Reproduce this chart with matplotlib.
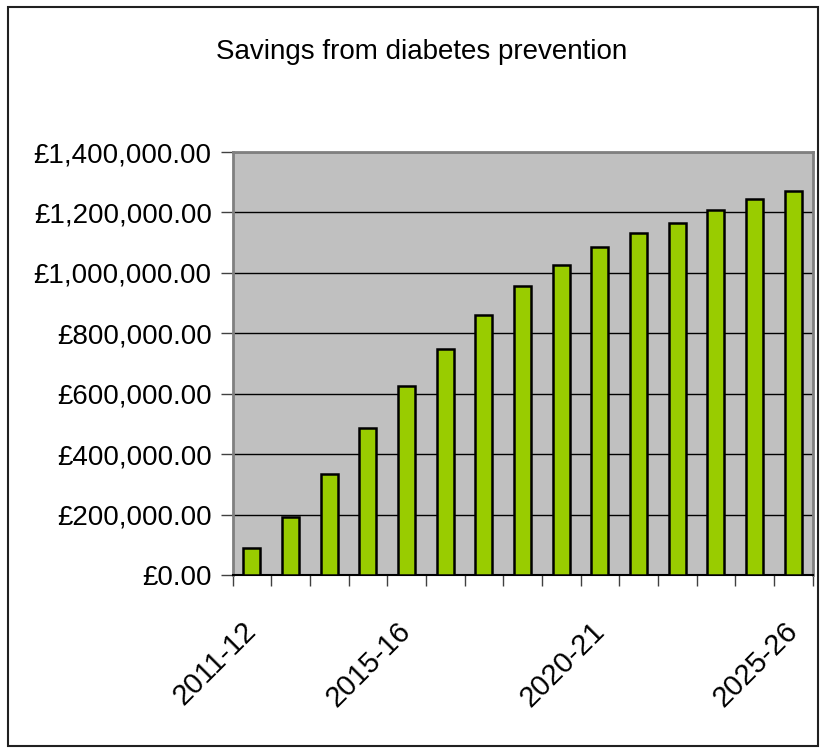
"""
Bar chart of projected savings from diabetes prevention
"""

import matplotlib
matplotlib.use("Agg")
import matplotlib.pyplot as plt
from matplotlib.patches import Rectangle
from matplotlib.ticker import FuncFormatter, FixedLocator

years = ["2011-12", "2012-13", "2013-14", "2014-15", "2015-16", "2016-17", "2017-18",
         "2018-19", "2019-20", "2020-21", "2021-22", "2022-23", "2023-24", "2024-25", "2025-26"]
savings = [88000, 191000, 333000, 487000, 625000, 749000, 861000,
           957000, 1026000, 1087000, 1131000, 1166000, 1208000, 1243000, 1270000]
shown_labels = ["2011-12", "2015-16", "2020-21", "2025-26"]

plt.rcParams["font.family"] = ["Liberation Sans", "DejaVu Sans"]

fig = plt.figure(figsize=(8.22, 7.5), dpi=100)

# outer chart border
fig.patches.append(Rectangle((8 / 822, 4 / 750), 810 / 822, 739 / 750, transform=fig.transFigure,
                             fill=False, edgecolor="#202020", linewidth=1.5))

ax = fig.add_axes([232.5 / 822, 175 / 750, 580 / 822, 423 / 750])
ax.set_facecolor("#c0c0c0")

x = list(range(len(years)))
ax.bar(x, savings, width=0.44, color="#99cc00", edgecolor="black", linewidth=1.8, zorder=3)

ax.set_xlim(-0.5, len(years) - 0.5)
ax.set_ylim(0, 1400000)
ax.set_yticks(range(0, 1400001, 200000))
ax.yaxis.set_major_formatter(FuncFormatter(lambda v, pos: "£{:,.2f}".format(v)))
ax.grid(axis="y", color="black", linewidth=1, zorder=1)

# category labels sit under their bars, tick marks sit between the bars
label_pos = [years.index(y) for y in shown_labels]
ax.set_xticks(label_pos)
ax.set_xticklabels(shown_labels, rotation=45, ha="right", va="center",
                   rotation_mode="anchor", fontsize=21)
ax.tick_params(axis="x", which="major", length=0, pad=37)
ax.xaxis.set_minor_locator(FixedLocator([i - 0.5 for i in range(len(years) + 1)]))
ax.tick_params(axis="x", which="minor", length=8, width=1, color="#404040")

ax.tick_params(axis="y", length=9, width=1, color="#404040", labelsize=20, pad=6)

for side in ["left", "top", "right"]:
    ax.spines[side].set_color("#808080")
    ax.spines[side].set_linewidth(2)
ax.spines["bottom"].set_color("black")
ax.spines["bottom"].set_linewidth(1.5)

fig.text(0.513, 1 - 59 / 750, "Savings from diabetes prevention", ha="center", va="baseline", fontsize=20)

fig.savefig("out.png", dpi=100)
plt.close(fig)
